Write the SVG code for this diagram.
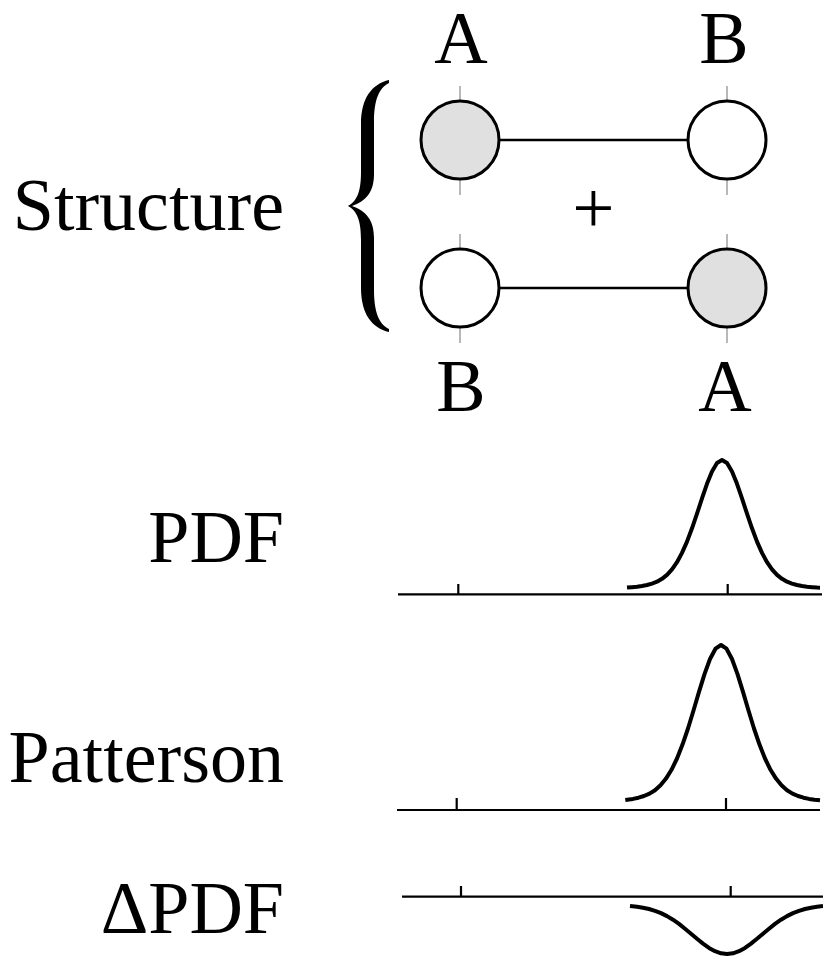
<svg xmlns="http://www.w3.org/2000/svg" width="823" height="958" viewBox="0 0 823 958">
<style>
.lbl{font-family:"Liberation Serif","Times New Roman",serif;font-size:74px;fill:#000}
.atom{stroke:#000;stroke-width:3}
.a{fill:#e0e0e0}
.b{fill:#fff}
.guide{stroke:#a0a0a0;stroke-width:1.5;fill:none}
.bond{stroke:#000;stroke-width:2.7;fill:none}
.axis{stroke:#000;stroke-width:2.2;fill:none}
.curve{stroke:#000;stroke-width:4;fill:none;stroke-linejoin:round}
</style>
<rect width="823" height="958" fill="#fff"/>
<g id="labels">
<text class="lbl" x="284" y="230" text-anchor="end">Structure</text>
<text class="lbl" x="284" y="562" text-anchor="end">PDF</text>
<text class="lbl" x="284" y="782" text-anchor="end">Patterson</text>
<text class="lbl" x="284" y="933" text-anchor="end">ΔPDF</text>
<text class="lbl" x="461" y="63" text-anchor="middle">A</text>
<text class="lbl" x="724" y="63" text-anchor="middle">B</text>
<text class="lbl" x="461" y="411" text-anchor="middle">B</text>
<text class="lbl" x="725" y="411" text-anchor="middle">A</text>
<text class="lbl" x="593.5" y="233" text-anchor="middle" style="font-size:75px">+</text>
</g>
<g id="brace">
<path fill="#000" d="M389,80 C372,84 361,98 361,124 L361,172 C361,192 357,201 348,206 C357,211 361,220 361,240 L361,288 C361,314 372,328 389,332 L389,329 C379,324 374,312 374,290 L374,238 C374,220 366,211 352,206 C366,201 374,192 374,174 L374,122 C374,100 379,88 389,83 Z"/>
</g>
<g id="guides">
<line class="guide" x1="460" y1="86" x2="460" y2="195"/>
<line class="guide" x1="727" y1="86" x2="727" y2="195"/>
<line class="guide" x1="460" y1="234" x2="460" y2="343"/>
<line class="guide" x1="727" y1="234" x2="727" y2="343"/>
</g>
<g id="connectors">
<line class="bond" x1="499" y1="140" x2="688" y2="140"/>
<line class="bond" x1="499" y1="288" x2="688" y2="288"/>
</g>
<g id="atom-A-top"><circle class="atom a" cx="460" cy="140" r="39"/></g>
<g id="atom-B-top"><circle class="atom b" cx="727" cy="140" r="39"/></g>
<g id="atom-B-bottom"><circle class="atom b" cx="460" cy="288" r="39"/></g>
<g id="atom-A-bottom"><circle class="atom a" cx="727" cy="288" r="39"/></g>
<g id="pdf-plot">
<path class="axis" d="M398,594.3 H822 M458.3,584 V594.3 M727.7,584 V594.3"/>
<path class="curve" d="M627,587.6 L632,587.2 637,586.7 642,586 647,585 652,583.6 657,581.7 662,578.8 667,574.9 672,569.4 677,562.2 682,552.9 687,541.6 692,528.3 697,513.7 702,498.4 707,483.8 712,471.4 717,463 722,460 727,463 732,471.4 737,483.8 742,498.4 747,513.7 752,528.3 757,541.6 762,552.9 767,562.2 772,569.4 777,574.9 782,578.8 787,581.7 792,583.6 797,585 802,586 807,586.7 812,587.2 817,587.6 820,587.7"/>
</g>
<g id="patterson-plot">
<path class="axis" d="M397,810 H820 M456.7,798 V810 M726,798 V810"/>
<path class="curve" d="M625.3,800 L633,798.9 638.5,797.7 644,796 649.5,793.6 655,790.2 660.5,785.3 666,778.6 671.5,769.8 677,758.5 682.5,744.6 688,728.5 693.5,710.5 699,691.9 704.5,674.1 710,659 715.5,648.7 721,645 726.5,648.7 732,659 737.5,674.1 743,691.9 748.5,710.5 754,728.5 759.5,744.6 765,758.5 770.5,769.8 776,778.6 781.5,785.3 787,790.2 792.5,793.6 798,796 803.5,797.7 809,798.9 814.5,799.7 820,800.3"/>
</g>
<g id="dpdf-plot">
<path class="axis" d="M402,896.7 H823 M461,886 V896.7 M730.7,886 V896.7"/>
<path class="curve" d="M630,906 L637,906.7 643,907.7 649,909 655,910.8 661,913.1 667,916.1 673,919.7 679,923.9 685,928.7 691,933.7 697,938.8 703,943.6 709,947.9 715,951.2 721,953.3 727,954 733,953.3 739,951.2 745,947.9 751,943.6 757,938.8 763,933.7 769,928.7 775,923.9 781,919.7 787,916.1 793,913.1 799,910.8 805,909 811,907.7 817,906.7 823,906.1"/>
</g>
</svg>
